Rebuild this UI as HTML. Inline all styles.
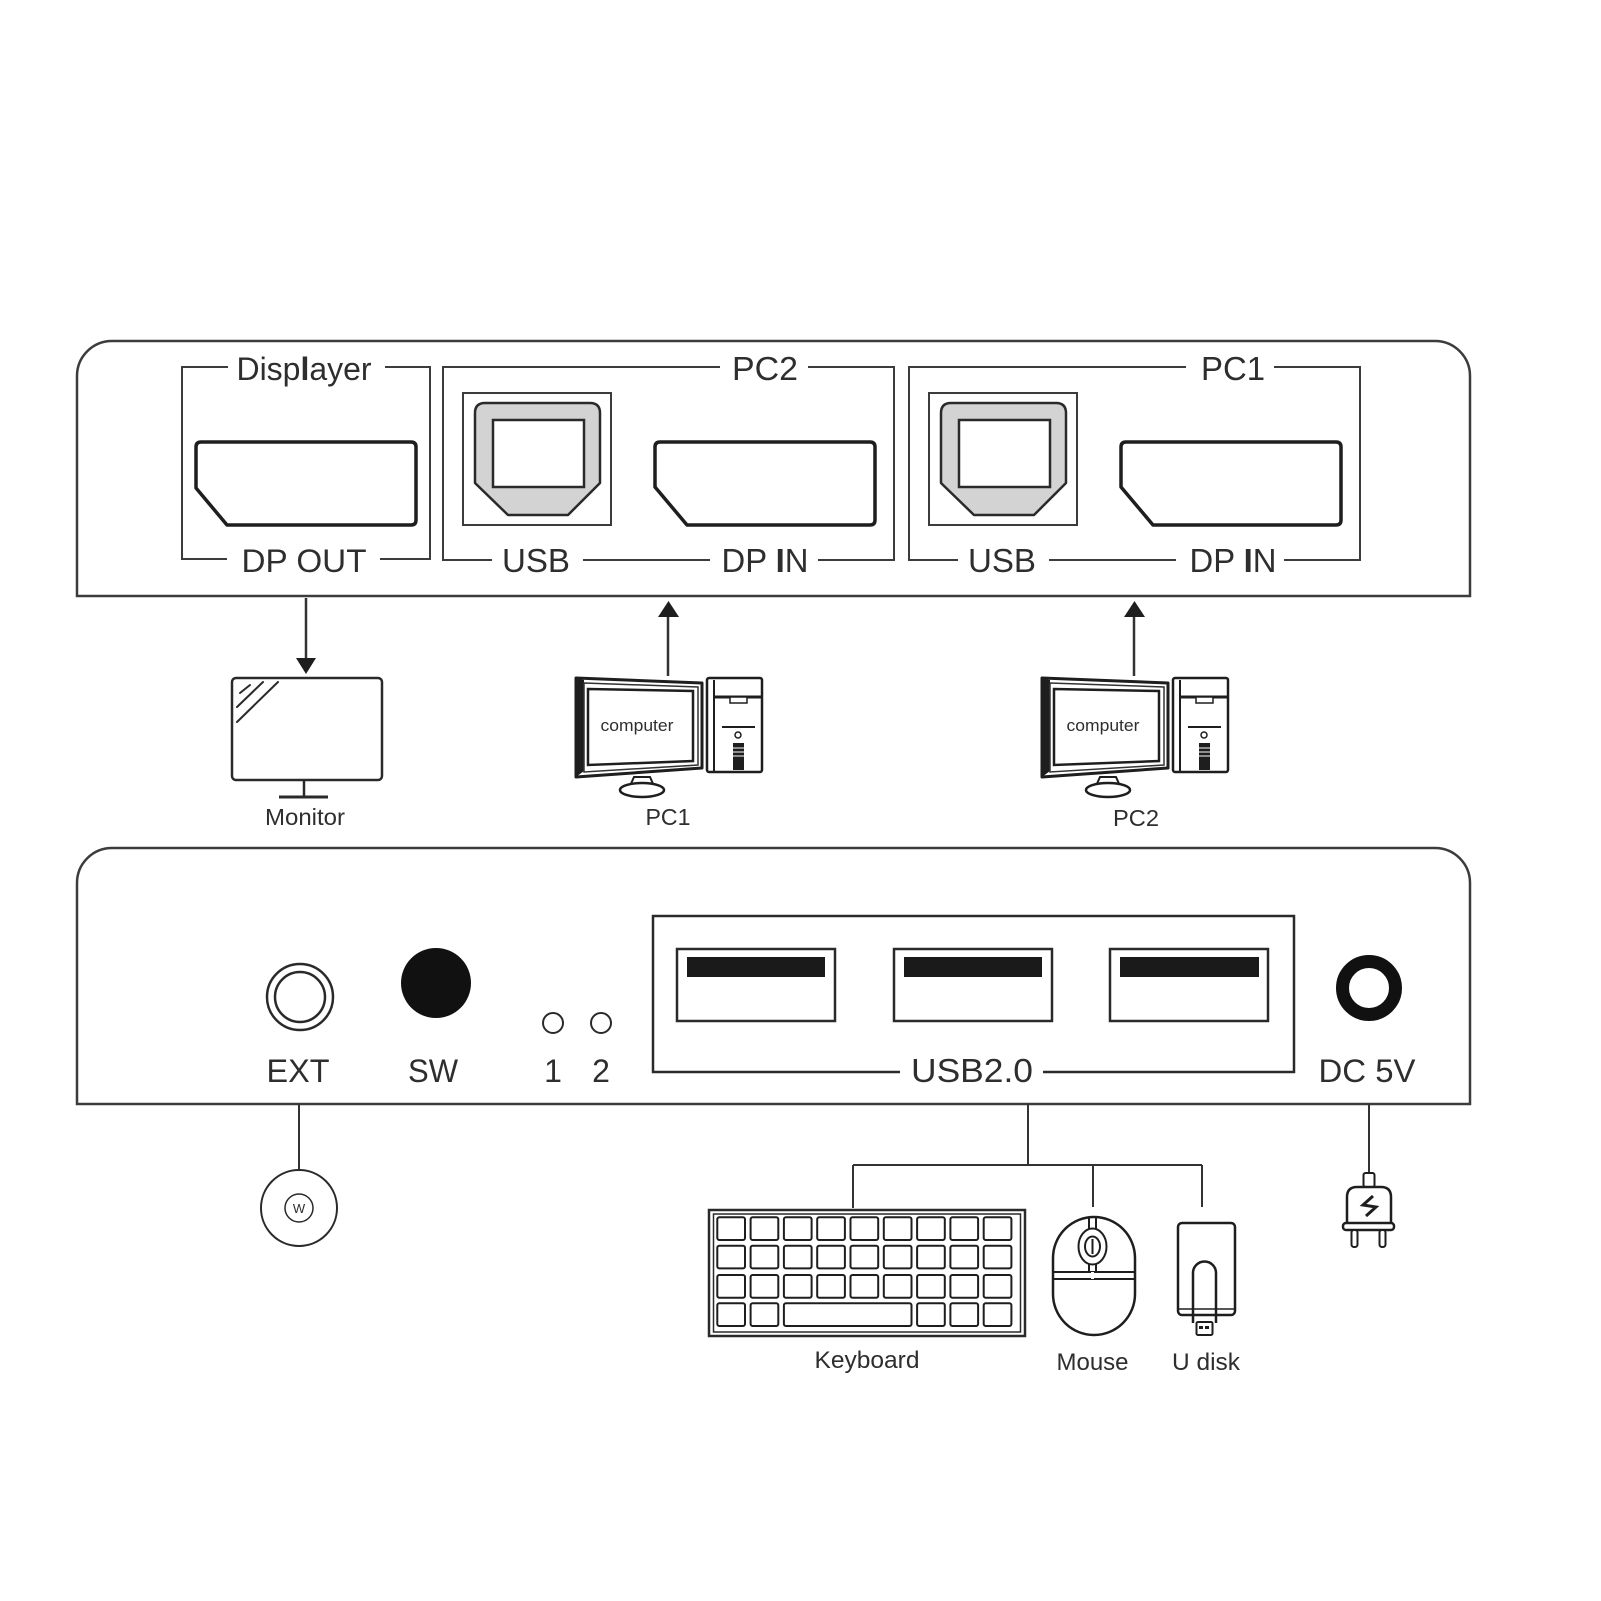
<!DOCTYPE html>
<html>
<head>
<meta charset="utf-8">
<style>
html,body{margin:0;padding:0;background:#fff;}
svg{display:block;}
text{font-family:"Liberation Sans",Arial,sans-serif;fill:#2e2e2e;}
</style>
</head>
<body>
<svg width="1601" height="1601" viewBox="0 0 1601 1601" xmlns="http://www.w3.org/2000/svg">
<rect width="1601" height="1601" fill="#fff"/>

<!-- ================= TOP PANEL ================= -->
<path d="M77,596 L77,376 A35,35 0 0 1 112,341 L1435,341 A35,35 0 0 1 1470,376 L1470,596 Z" fill="none" stroke="#3c3c3c" stroke-width="2.5"/>

<!-- Displayer box -->
<g stroke="#3c3c3c" stroke-width="2" fill="none">
  <path d="M228,367 L182,367 L182,559 L227,559"/>
  <path d="M385,367 L430,367 L430,559 L380,559"/>
</g>
<text x="304" y="380" font-size="32" text-anchor="middle" textLength="135" lengthAdjust="spacingAndGlyphs">Disp<tspan font-weight="bold">l</tspan>ayer</text>
<text x="304" y="572" font-size="32" text-anchor="middle" textLength="125" lengthAdjust="spacingAndGlyphs">DP OUT</text>
<path d="M201,442 L411,442 Q416,442 416,447 L416,520 Q416,525 411,525 L227,525 L196,488 L196,447 Q196,442 201,442 Z" fill="#fff" stroke="#1e1e1e" stroke-width="3.5" stroke-linejoin="round"/>

<!-- PC2 group -->
<g id="pcgroup">
  <g stroke="#3c3c3c" stroke-width="2" fill="none">
    <path d="M720,367 L443,367 L443,560 L492,560"/>
    <path d="M808,367 L894,367 L894,560 L818,560"/>
    <path d="M583,560 L710,560"/>
  </g>
  <text x="765" y="380" font-size="33" text-anchor="middle" textLength="66" lengthAdjust="spacingAndGlyphs">PC2</text>
  <text x="536" y="572" font-size="33" text-anchor="middle" textLength="68" lengthAdjust="spacingAndGlyphs">USB</text>
  <text x="765" y="572" font-size="33" text-anchor="middle" textLength="87" lengthAdjust="spacingAndGlyphs">DP <tspan font-weight="bold">I</tspan>N</text>
  <!-- USB B -->
  <rect x="463" y="393" width="148" height="132" fill="none" stroke="#3c3c3c" stroke-width="2"/>
  <path d="M475,413 Q475,403 485,403 L590,403 Q600,403 600,413 L600,483 L568,515 L508,515 L475,483 Z" fill="#d3d3d3" stroke="#2a2a2a" stroke-width="2.5" stroke-linejoin="round"/>
  <rect x="493" y="420" width="91" height="67" fill="#fff" stroke="#2a2a2a" stroke-width="2.5"/>
  <!-- DP IN -->
  <path d="M660,442 L870,442 Q875,442 875,447 L875,520 Q875,525 870,525 L687,525 L655,487 L655,447 Q655,442 660,442 Z" fill="#fff" stroke="#1e1e1e" stroke-width="3.5" stroke-linejoin="round"/>
</g>
<!-- PC1 group (copy shifted) -->
<g transform="translate(466,0)">
  <g stroke="#3c3c3c" stroke-width="2" fill="none">
    <path d="M720,367 L443,367 L443,560 L492,560"/>
    <path d="M808,367 L894,367 L894,560 L818,560"/>
    <path d="M583,560 L710,560"/>
  </g>
  <text x="767" y="380" font-size="33" text-anchor="middle" textLength="64" lengthAdjust="spacingAndGlyphs">PC1</text>
  <text x="536" y="572" font-size="33" text-anchor="middle" textLength="68" lengthAdjust="spacingAndGlyphs">USB</text>
  <text x="767" y="572" font-size="33" text-anchor="middle" textLength="87" lengthAdjust="spacingAndGlyphs">DP <tspan font-weight="bold">I</tspan>N</text>
  <rect x="463" y="393" width="148" height="132" fill="none" stroke="#3c3c3c" stroke-width="2"/>
  <path d="M475,413 Q475,403 485,403 L590,403 Q600,403 600,413 L600,483 L568,515 L508,515 L475,483 Z" fill="#d3d3d3" stroke="#2a2a2a" stroke-width="2.5" stroke-linejoin="round"/>
  <rect x="493" y="420" width="91" height="67" fill="#fff" stroke="#2a2a2a" stroke-width="2.5"/>
  <path d="M660,442 L870,442 Q875,442 875,447 L875,520 Q875,525 870,525 L687,525 L655,487 L655,447 Q655,442 660,442 Z" fill="#fff" stroke="#1e1e1e" stroke-width="3.5" stroke-linejoin="round"/>
</g>

<!-- ================= ARROWS / DEVICES ================= -->
<!-- Monitor arrow -->
<line x1="306" y1="598" x2="306" y2="660" stroke="#333" stroke-width="2.5"/>
<polygon points="296,658 316,658 306,674" fill="#1e1e1e"/>
<!-- Monitor -->
<rect x="232" y="678" width="150" height="102" rx="4" fill="#fff" stroke="#2a2a2a" stroke-width="2.5"/>
<g stroke="#2a2a2a" stroke-width="2" stroke-linecap="round">
  <line x1="240" y1="693" x2="250" y2="685"/>
  <line x1="237" y1="707" x2="263" y2="682"/>
  <line x1="237" y1="722" x2="278" y2="682"/>
</g>
<line x1="304" y1="780" x2="304" y2="797" stroke="#2a2a2a" stroke-width="2.5"/>
<line x1="279" y1="797" x2="328" y2="797" stroke="#2a2a2a" stroke-width="3"/>
<text x="305" y="825" font-size="23" text-anchor="middle" textLength="80" lengthAdjust="spacingAndGlyphs" fill="#444">Monitor</text>

<!-- Computer PC1 -->
<g id="comp">
  <line x1="668" y1="614" x2="668" y2="676" stroke="#333" stroke-width="2.5"/>
  <polygon points="658,617 679,617 668.5,601" fill="#1e1e1e"/>
  <polygon points="576,678 702,683 702,768 576,777" fill="#fff" stroke="#1e1e1e" stroke-width="3" stroke-linejoin="round"/>
  <polygon points="576,678 584,680 584,771 576,777" fill="#1e1e1e"/>
  <polygon points="584,683 698,687 698,765 584,772" fill="none" stroke="#333" stroke-width="1.5"/>
  <polygon points="588,689 693,691 693,761 588,765" fill="#fff" stroke="#1e1e1e" stroke-width="2.5"/>
  <text x="637" y="731" font-size="17" text-anchor="middle" textLength="73" lengthAdjust="spacingAndGlyphs" fill="#555">computer</text>
  <polygon points="634,777 650,777 654,786 630,786" fill="#fff" stroke="#1e1e1e" stroke-width="2"/>
  <ellipse cx="642" cy="790" rx="22" ry="7" fill="#fff" stroke="#1e1e1e" stroke-width="2.5"/>
  <rect x="707" y="678" width="55" height="94" rx="2" fill="#fff" stroke="#1e1e1e" stroke-width="2.5"/>
  <line x1="714" y1="680" x2="714" y2="771" stroke="#1e1e1e" stroke-width="2"/>
  <line x1="714" y1="697" x2="762" y2="697" stroke="#1e1e1e" stroke-width="3"/>
  <rect x="730" y="697" width="17" height="6" fill="#fff" stroke="#1e1e1e" stroke-width="1.5"/>
  <line x1="722" y1="727" x2="755" y2="727" stroke="#1e1e1e" stroke-width="2"/>
  <circle cx="738" cy="735" r="3" fill="none" stroke="#1e1e1e" stroke-width="1.5"/>
  <rect x="733" y="743" width="11" height="27" fill="#1e1e1e"/>
  <g stroke="#fff" stroke-width="1"><line x1="733" y1="748" x2="744" y2="748"/><line x1="733" y1="752" x2="744" y2="752"/><line x1="733" y1="756" x2="744" y2="756"/></g>
</g>
<text x="668" y="825" font-size="23" text-anchor="middle" textLength="45" lengthAdjust="spacingAndGlyphs" fill="#444">PC1</text>
<g transform="translate(466,0)">
  <line x1="668" y1="614" x2="668" y2="676" stroke="#333" stroke-width="2.5"/>
  <polygon points="658,617 679,617 668.5,601" fill="#1e1e1e"/>
  <polygon points="576,678 702,683 702,768 576,777" fill="#fff" stroke="#1e1e1e" stroke-width="3" stroke-linejoin="round"/>
  <polygon points="576,678 584,680 584,771 576,777" fill="#1e1e1e"/>
  <polygon points="584,683 698,687 698,765 584,772" fill="none" stroke="#333" stroke-width="1.5"/>
  <polygon points="588,689 693,691 693,761 588,765" fill="#fff" stroke="#1e1e1e" stroke-width="2.5"/>
  <text x="637" y="731" font-size="17" text-anchor="middle" textLength="73" lengthAdjust="spacingAndGlyphs" fill="#555">computer</text>
  <polygon points="634,777 650,777 654,786 630,786" fill="#fff" stroke="#1e1e1e" stroke-width="2"/>
  <ellipse cx="642" cy="790" rx="22" ry="7" fill="#fff" stroke="#1e1e1e" stroke-width="2.5"/>
  <rect x="707" y="678" width="55" height="94" rx="2" fill="#fff" stroke="#1e1e1e" stroke-width="2.5"/>
  <line x1="714" y1="680" x2="714" y2="771" stroke="#1e1e1e" stroke-width="2"/>
  <line x1="714" y1="697" x2="762" y2="697" stroke="#1e1e1e" stroke-width="3"/>
  <rect x="730" y="697" width="17" height="6" fill="#fff" stroke="#1e1e1e" stroke-width="1.5"/>
  <line x1="722" y1="727" x2="755" y2="727" stroke="#1e1e1e" stroke-width="2"/>
  <circle cx="738" cy="735" r="3" fill="none" stroke="#1e1e1e" stroke-width="1.5"/>
  <rect x="733" y="743" width="11" height="27" fill="#1e1e1e"/>
  <g stroke="#fff" stroke-width="1"><line x1="733" y1="748" x2="744" y2="748"/><line x1="733" y1="752" x2="744" y2="752"/><line x1="733" y1="756" x2="744" y2="756"/></g>
</g>
<text x="1136" y="826" font-size="23" text-anchor="middle" textLength="46" lengthAdjust="spacingAndGlyphs" fill="#444">PC2</text>

<!-- ================= BOTTOM PANEL ================= -->
<path d="M77,1104 L77,883 A35,35 0 0 1 112,848 L1435,848 A35,35 0 0 1 1470,883 L1470,1104 Z" fill="none" stroke="#3c3c3c" stroke-width="2.5"/>

<!-- EXT -->
<circle cx="300" cy="997" r="33" fill="none" stroke="#2a2a2a" stroke-width="2.5"/>
<circle cx="300" cy="997" r="25" fill="none" stroke="#2a2a2a" stroke-width="2.5"/>
<text x="298" y="1082" font-size="32" text-anchor="middle" textLength="63" lengthAdjust="spacingAndGlyphs">EXT</text>
<!-- SW -->
<circle cx="436" cy="983" r="35" fill="#111"/>
<text x="433" y="1082" font-size="32" text-anchor="middle" textLength="50" lengthAdjust="spacingAndGlyphs">SW</text>
<!-- LEDs -->
<circle cx="553" cy="1023" r="10" fill="none" stroke="#2a2a2a" stroke-width="2"/>
<circle cx="601" cy="1023" r="10" fill="none" stroke="#2a2a2a" stroke-width="2"/>
<text x="553" y="1082" font-size="32" text-anchor="middle">1</text>
<text x="601" y="1082" font-size="32" text-anchor="middle">2</text>

<!-- USB2.0 box -->
<path d="M900,1072 L653,1072 L653,916 L1294,916 L1294,1072 L1043,1072" fill="none" stroke="#2a2a2a" stroke-width="2.5"/>
<text x="972" y="1082" font-size="33" text-anchor="middle" textLength="122" lengthAdjust="spacingAndGlyphs">USB2.0</text>
<g fill="#fff" stroke="#2a2a2a" stroke-width="2.5">
  <rect x="677" y="949" width="158" height="72"/>
  <rect x="894" y="949" width="158" height="72"/>
  <rect x="1110" y="949" width="158" height="72"/>
</g>
<g fill="#1a1a1a">
  <rect x="687" y="957" width="138" height="20"/>
  <rect x="904" y="957" width="138" height="20"/>
  <rect x="1120" y="957" width="139" height="20"/>
</g>

<!-- DC -->
<circle cx="1369" cy="988" r="26.5" fill="none" stroke="#111" stroke-width="13"/>
<text x="1367" y="1082" font-size="32" text-anchor="middle" textLength="97" lengthAdjust="spacingAndGlyphs">DC 5V</text>

<!-- ================= BELOW BOTTOM PANEL ================= -->
<!-- EXT wire + wired remote -->
<line x1="299" y1="1104" x2="299" y2="1170" stroke="#333" stroke-width="2"/>
<circle cx="299" cy="1208" r="38" fill="none" stroke="#2a2a2a" stroke-width="2"/>
<circle cx="299" cy="1208" r="14" fill="none" stroke="#2a2a2a" stroke-width="1.5"/>
<text x="299" y="1213" font-size="13" text-anchor="middle" fill="#666">W</text>

<!-- USB tree -->
<g stroke="#333" stroke-width="2" fill="none">
  <line x1="1028" y1="1104" x2="1028" y2="1165"/>
  <line x1="853" y1="1165" x2="1202" y2="1165"/>
  <line x1="853" y1="1165" x2="853" y2="1208"/>
  <line x1="1093" y1="1165" x2="1093" y2="1207"/>
  <line x1="1202" y1="1165" x2="1202" y2="1207"/>
</g>

<!-- Keyboard -->
<rect x="709" y="1210" width="316" height="126" fill="#fff" stroke="#2a2a2a" stroke-width="2.5"/>
<rect x="713.5" y="1214" width="307" height="118" fill="none" stroke="#2a2a2a" stroke-width="1.5"/>
<g fill="#fff" stroke="#1e1e1e" stroke-width="2">
  <!-- row 1 -->
  <rect x="717.3" y="1217.3" width="27.7" height="22.7" rx="2"/><rect x="750.6" y="1217.3" width="27.7" height="22.7" rx="2"/><rect x="783.9" y="1217.3" width="27.7" height="22.7" rx="2"/><rect x="817.2" y="1217.3" width="27.7" height="22.7" rx="2"/><rect x="850.5" y="1217.3" width="27.7" height="22.7" rx="2"/><rect x="883.8" y="1217.3" width="27.7" height="22.7" rx="2"/><rect x="917.1" y="1217.3" width="27.7" height="22.7" rx="2"/><rect x="950.4" y="1217.3" width="27.7" height="22.7" rx="2"/><rect x="983.7" y="1217.3" width="27.7" height="22.7" rx="2"/>
  <!-- row 2 -->
  <rect x="717.3" y="1245.7" width="27.7" height="22.7" rx="2"/><rect x="750.6" y="1245.7" width="27.7" height="22.7" rx="2"/><rect x="783.9" y="1245.7" width="27.7" height="22.7" rx="2"/><rect x="817.2" y="1245.7" width="27.7" height="22.7" rx="2"/><rect x="850.5" y="1245.7" width="27.7" height="22.7" rx="2"/><rect x="883.8" y="1245.7" width="27.7" height="22.7" rx="2"/><rect x="917.1" y="1245.7" width="27.7" height="22.7" rx="2"/><rect x="950.4" y="1245.7" width="27.7" height="22.7" rx="2"/><rect x="983.7" y="1245.7" width="27.7" height="22.7" rx="2"/>
  <!-- row 3 -->
  <rect x="717.3" y="1275" width="27.7" height="22.7" rx="2"/><rect x="750.6" y="1275" width="27.7" height="22.7" rx="2"/><rect x="783.9" y="1275" width="27.7" height="22.7" rx="2"/><rect x="817.2" y="1275" width="27.7" height="22.7" rx="2"/><rect x="850.5" y="1275" width="27.7" height="22.7" rx="2"/><rect x="883.8" y="1275" width="27.7" height="22.7" rx="2"/><rect x="917.1" y="1275" width="27.7" height="22.7" rx="2"/><rect x="950.4" y="1275" width="27.7" height="22.7" rx="2"/><rect x="983.7" y="1275" width="27.7" height="22.7" rx="2"/>
  <!-- row 4 -->
  <rect x="717.3" y="1303.3" width="27.7" height="22.7" rx="2"/><rect x="750.6" y="1303.3" width="27.7" height="22.7" rx="2"/>
  <rect x="783.9" y="1303.3" width="127.6" height="22.7" rx="2"/>
  <rect x="917.1" y="1303.3" width="27.7" height="22.7" rx="2"/><rect x="950.4" y="1303.3" width="27.7" height="22.7" rx="2"/><rect x="983.7" y="1303.3" width="27.7" height="22.7" rx="2"/>
</g>
<text x="867" y="1368" font-size="24" text-anchor="middle" textLength="105" lengthAdjust="spacingAndGlyphs" fill="#444">Keyboard</text>

<!-- Mouse -->
<rect x="1053" y="1217" width="82" height="118" rx="41" ry="41" fill="#fff" stroke="#1e1e1e" stroke-width="2.5"/>
<g stroke="#1e1e1e" stroke-width="2" fill="none">
  <line x1="1054" y1="1272" x2="1134" y2="1272"/>
  <line x1="1054" y1="1279" x2="1134" y2="1279"/>
  <line x1="1089" y1="1217" x2="1089" y2="1229"/>
  <line x1="1096" y1="1217" x2="1096" y2="1229"/>
  <line x1="1089" y1="1264" x2="1089" y2="1272"/>
  <line x1="1096" y1="1264" x2="1096" y2="1272"/>
  <ellipse cx="1092.5" cy="1246.5" rx="14" ry="18"/>
  <ellipse cx="1092.5" cy="1246.5" rx="7.5" ry="10"/>
  <line x1="1092.5" y1="1239" x2="1092.5" y2="1254"/>
</g>
<line x1="1092.5" y1="1272" x2="1092.5" y2="1279" stroke="#fff" stroke-width="3"/>
<text x="1092.5" y="1370" font-size="24" text-anchor="middle" textLength="72" lengthAdjust="spacingAndGlyphs" fill="#444">Mouse</text>

<!-- U disk -->
<rect x="1178" y="1223" width="57" height="92" rx="4" fill="#fff" stroke="#1e1e1e" stroke-width="2.5"/>
<line x1="1179" y1="1309" x2="1234" y2="1309" stroke="#1e1e1e" stroke-width="1.5"/>
<path d="M1193,1323 L1193,1273 A11.5,11.5 0 0 1 1216,1273 L1216,1323" fill="none" stroke="#1e1e1e" stroke-width="2.5"/>
<rect x="1196.5" y="1322" width="16" height="13" rx="1.5" fill="#fff" stroke="#1e1e1e" stroke-width="2"/>
<rect x="1199" y="1326" width="4" height="3" fill="#1e1e1e"/><rect x="1205" y="1326" width="4" height="3" fill="#1e1e1e"/>
<text x="1206" y="1370" font-size="24" text-anchor="middle" textLength="68" lengthAdjust="spacingAndGlyphs" fill="#444">U disk</text>

<!-- Power plug -->
<line x1="1369" y1="1104" x2="1369" y2="1174" stroke="#333" stroke-width="2"/>
<rect x="1363.5" y="1173" width="11" height="14" rx="2" fill="#fff" stroke="#1e1e1e" stroke-width="2"/>
<path d="M1347,1224 L1347,1197 Q1347,1187 1357,1187 L1381,1187 Q1391,1187 1391,1197 L1391,1224" fill="#fff" stroke="#1e1e1e" stroke-width="2.5"/>
<rect x="1343" y="1223" width="51" height="7" rx="3" fill="#fff" stroke="#1e1e1e" stroke-width="2.5"/>
<rect x="1351.5" y="1230" width="6" height="17" rx="2.5" fill="#fff" stroke="#1e1e1e" stroke-width="2"/>
<rect x="1379.5" y="1230" width="6" height="17" rx="2.5" fill="#fff" stroke="#1e1e1e" stroke-width="2"/>
<polyline points="1373,1196 1363,1205 1376,1207 1366,1216" fill="none" stroke="#1e1e1e" stroke-width="3" stroke-linejoin="miter"/>
</svg>
</body>
</html>
